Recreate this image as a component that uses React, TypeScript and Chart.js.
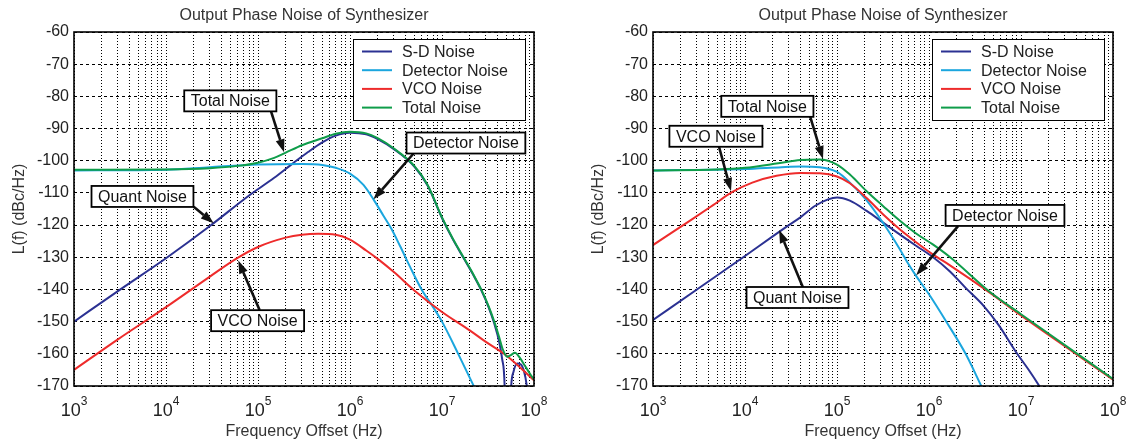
import React, { useEffect, useRef } from 'react';
import { Chart, registerables } from 'chart.js';

Chart.register(...registerables);

const FONT = '"Liberation Sans", Arial, Helvetica, sans-serif';

const TITLE = 'Output Phase Noise of Synthesizer';
const X_TITLE = 'Frequency Offset (Hz)';
const Y_TITLE = 'L(f) (dBc/Hz)';
const SERIES_NAMES = ['S-D Noise', 'Detector Noise', 'VCO Noise', 'Total Noise'];
const SERIES_COLORS = ['#2B3192', '#1BA6DE', '#EE2B2B', '#0F9D4A'];
const X_DECADES = [3, 4, 5, 6, 7, 8];
const Y_MIN = -170;
const Y_MAX = -60;
const Y_STEP = 10;

// ---------- left panel ----------
const L_SD_F = [1e3, 3e3, 1e4, 3e4, 8e4, 1.5e5, 2.3e5, 3.5e5, 5e5, 7e5, 1e6, 1.5e6, 2e6, 3e6, 5e6, 7e6, 1e7, 1.3e7, 1.73e7, 2.2e7, 2.7e7, 3.2e7, 3.7e7, 4.2e7, 4.5e7, 4.8e7, 5e7, 5.3e7, 5.6e7, 6e7, 6.6e7, 7.2e7, 7.8e7, 8.3e7, 8.8e7, 9.3e7];
const L_SD_DB = [-150, -140.5, -130.3, -120.3, -110.8, -105.3, -101.2, -97.3, -94.3, -92.2, -91.3, -91.8, -93.3, -96.4, -101.8, -107.8, -117.8, -124.2, -130.4, -135.6, -140.5, -145.4, -150.6, -156.5, -161.5, -170.5, -200, -200, -172, -165.5, -163, -163.3, -165.5, -169.5, -177, -200];

const L_DET_F = [1e3, 1e4, 3e4, 1e5, 3e5, 5e5, 7e5, 1e6, 1.4e6, 1.8e6, 2.3e6, 2.8e6, 3.5e6, 4.5e6, 6e6, 8e6, 1e7, 1.5e7, 2.3e7];
const L_DET_DB = [-103, -102.8, -102, -101.2, -101, -101.3, -102.2, -104, -107.5, -112, -117, -121, -126.5, -133, -140, -145.5, -150, -160, -171];

const L_VCO_F = [1e3, 3e3, 1e4, 3e4, 6e4, 1e5, 2e5, 3e5, 4.5e5, 7e5, 1e6, 1.5e6, 2e6, 3e6, 5e6, 1e7, 2e7, 3e7, 5e7, 1e8];
const L_VCO_DB = [-165, -155.5, -145.5, -136, -130.2, -126.8, -123.9, -123, -122.7, -123, -124.5, -127.9, -130.5, -134.6, -140.3, -147, -152.7, -156.3, -160.5, -168.2];

const L_TOT_F = [1e3, 1e4, 3e4, 6e4, 1e5, 1.5e5, 2e5, 3e5, 5e5, 7e5, 1e6, 1.5e6, 2e6, 3e6, 5e6, 7e6, 1e7, 1.3e7, 1.73e7, 2.2e7, 2.7e7, 3.2e7, 3.7e7, 4.2e7, 4.6e7, 5.1e7, 5.6e7, 6.2e7, 7e7, 8e7, 9e7, 1e8];
const L_TOT_DB = [-102.8, -102.7, -102.3, -101.6, -100.6, -99.1, -97.5, -95.2, -93, -91.6, -91, -91.5, -93, -96.2, -101.6, -107.6, -117.6, -124, -130.2, -135.4, -140.3, -145.1, -150, -155, -158.8, -160.9, -160.4, -159.7, -161.2, -163.8, -166.1, -168];

// ---------- right panel ----------
const R_SD_F = [1e3, 3e3, 1e4, 2e4, 3e4, 4e4, 5.8e4, 8e4, 1e5, 1.38e5, 2.1e5, 3.2e5, 4.8e5, 7.3e5, 1.1e6, 1.69e6, 2.5e6, 3.9e6, 5.7e6, 8.9e6, 1.2e7, 1.58e7, 2e7];
const R_SD_DB = [-149.5, -140, -129.6, -123.5, -120, -117.6, -114, -112, -111.4, -112.4, -115.6, -119.3, -122.9, -126.5, -129.9, -134.4, -139.5, -145, -151, -159.6, -164.8, -170, -175];

const R_DET_F = [1e3, 1e4, 2.5e4, 4e4, 6.5e4, 1e5, 1.38e5, 2.1e5, 3.2e5, 4.8e5, 6e5, 7.2e5, 1e6, 1.58e6, 2.5e6, 3.7e6, 4.5e6];
const R_DET_DB = [-103, -102.6, -102, -101.8, -102, -103.5, -106.8, -112.3, -119.5, -127.4, -132.2, -135.7, -141.5, -150.5, -160, -170, -175];

const R_VCO_F = [1e3, 2.6e3, 4.5e3, 7.3e3, 1.2e4, 2.2e4, 4e4, 6.5e4, 1e5, 1.38e5, 2.1e5, 3.2e5, 4.8e5, 7.3e5, 1.1e6, 1.69e6, 4.7e6, 1e7, 1e8];
const R_VCO_DB = [-126.2, -118.4, -113.8, -109.7, -106.8, -104.7, -103.8, -103.9, -104.9, -107, -111.6, -116.8, -121.3, -125.4, -129.1, -132.5, -141.2, -148.1, -168];

const R_TOT_F = [1e3, 5e3, 1e4, 2.3e4, 4e4, 6.5e4, 1e5, 1.38e5, 2.1e5, 3.2e5, 4.8e5, 7.3e5, 1.1e6, 1.7e6, 4.6e6, 1e7, 1e8];
const R_TOT_DB = [-103, -102.7, -102.2, -100.8, -99.8, -99.6, -101.2, -104.3, -109.5, -114.2, -118.6, -122.7, -126, -130, -140.8, -147.7, -167.8];

// ---------- callouts (box centre, arrow start, arrow tip) in data units ----------
type Note = { text: string; box: [number, number]; from: [number, number]; to: [number, number] };

const LEFT_NOTES: Note[] = [
  { text: 'Total Noise', box: [5.0e4, -81.4], from: [1.38e5, -84.5], to: [1.92e5, -97.4] },
  { text: 'Quant Noise', box: [5.55e3, -111.1], from: [2.0e4, -114.3], to: [3.3e4, -119.4] },
  { text: 'VCO Noise', box: [9.9e4, -149.7], from: [1.04e5, -146.4], to: [6.1e4, -131.0] },
  { text: 'Detector Noise', box: [1.82e7, -94.5], from: [4.96e6, -97.6], to: [1.8e6, -112.0] },
];

const RIGHT_NOTES: Note[] = [
  { text: 'Total Noise', box: [1.75e4, -83.1], from: [5.1e4, -86.2], to: [7.04e4, -99.5] },
  { text: 'VCO Noise', box: [4.83e3, -92.4], from: [5.2e3, -95.5], to: [7.04e3, -109.4] },
  { text: 'Detector Noise', box: [6.7e6, -117], from: [2.07e6, -120.3], to: [7.26e5, -135.6] },
  { text: 'Quant Noise', box: [3.72e4, -142.5], from: [4.27e4, -139.4], to: [2.35e4, -121.5] },
];

const X_GRID: number[] = [];
X_DECADES.forEach((e) => {
  for (let m = 1; m <= 9; m++) {
    const v = m * Math.pow(10, e);
    if (v <= Math.pow(10, X_DECADES[X_DECADES.length - 1]) + 1) X_GRID.push(v);
  }
});

const pts = (f: number[], d: number[]) => f.map((x, i) => ({ x, y: d[i] }));

type PanelDef = {
  series: { x: number; y: number }[][];
  notes: Note[];
  axisWidth: number;
  padRight: number;
};

const PANELS: PanelDef[] = [
  {
    series: [pts(L_SD_F, L_SD_DB), pts(L_DET_F, L_DET_DB), pts(L_VCO_F, L_VCO_DB), pts(L_TOT_F, L_TOT_DB)],
    notes: LEFT_NOTES,
    axisWidth: 74,
    padRight: 31,
  },
  {
    series: [pts(R_SD_F, R_SD_DB), pts(R_DET_F, R_DET_DB), pts(R_VCO_F, R_VCO_DB), pts(R_TOT_F, R_TOT_DB)],
    notes: RIGHT_NOTES,
    axisWidth: 88,
    padRight: 17,
  },
];

function decorPlugin(notes: Note[]) {
  return {
    id: 'decor',
    afterDatasetsDraw(chart: any) {
      const { ctx, chartArea: a } = chart;
      ctx.save();
      ctx.setLineDash([]);
      ctx.strokeStyle = '#000';
      ctx.lineWidth = 1.6;
      ctx.strokeRect(a.left, a.top, a.right - a.left, a.bottom - a.top);
      ctx.restore();
    },
    afterDraw(chart: any) {
      const { ctx, chartArea: a, scales } = chart;
      const xs = scales.x;
      const ys = scales.y;
      ctx.save();
      ctx.setLineDash([]);

      // title
      ctx.fillStyle = '#333';
      ctx.font = `16px ${FONT}`;
      ctx.textAlign = 'center';
      ctx.textBaseline = 'alphabetic';
      ctx.fillText(TITLE, (a.left + a.right) / 2, a.top - 12);

      // x tick labels 10^n
      ctx.fillStyle = '#222';
      X_DECADES.forEach((e) => {
        const px = xs.getPixelForValue(Math.pow(10, e));
        ctx.font = `18px ${FONT}`;
        const wb = ctx.measureText('10').width;
        ctx.font = `12px ${FONT}`;
        const we = ctx.measureText(String(e)).width;
        const x0 = px - (wb + we) / 2;
        ctx.textAlign = 'left';
        ctx.font = `18px ${FONT}`;
        ctx.fillText('10', x0, a.bottom + 30);
        ctx.font = `12px ${FONT}`;
        ctx.fillText(String(e), x0 + wb, a.bottom + 19);
      });

      // x title
      ctx.fillStyle = '#333';
      ctx.font = `16px ${FONT}`;
      ctx.textAlign = 'center';
      ctx.fillText(X_TITLE, (a.left + a.right) / 2, a.bottom + 50);

      // y title
      ctx.save();
      ctx.translate(a.left - 54, (a.top + a.bottom) / 2);
      ctx.rotate(-Math.PI / 2);
      ctx.textBaseline = 'middle';
      ctx.fillText(Y_TITLE, 0, 0);
      ctx.restore();

      // legend
      const lw = 172;
      const lh = 81;
      const lx = a.right - 9 - lw;
      const ly = a.top + 7;
      ctx.fillStyle = '#fff';
      ctx.fillRect(lx, ly, lw, lh);
      ctx.strokeStyle = '#000';
      ctx.lineWidth = 1;
      ctx.strokeRect(lx + 0.5, ly + 0.5, lw, lh);
      ctx.font = `16px ${FONT}`;
      ctx.textAlign = 'left';
      ctx.textBaseline = 'middle';
      SERIES_NAMES.forEach((name, i) => {
        const yy = ly + 12.5 + i * 18.7;
        ctx.strokeStyle = SERIES_COLORS[i];
        ctx.lineWidth = 2;
        ctx.beginPath();
        ctx.moveTo(lx + 9, yy);
        ctx.lineTo(lx + 39, yy);
        ctx.stroke();
        ctx.fillStyle = '#222';
        ctx.fillText(name, lx + 49, yy + 1);
      });

      // callouts
      notes.forEach((n) => {
        const tx = xs.getPixelForValue(n.to[0]);
        const ty = ys.getPixelForValue(n.to[1]);
        const fx = xs.getPixelForValue(n.from[0]);
        const fy = ys.getPixelForValue(n.from[1]);
        const ang = Math.atan2(ty - fy, tx - fx);
        const headLen = 13;
        const headW = 4.5;
        const bx = tx - headLen * Math.cos(ang);
        const by = ty - headLen * Math.sin(ang);
        ctx.strokeStyle = '#111';
        ctx.lineWidth = 2.6;
        ctx.beginPath();
        ctx.moveTo(fx, fy);
        ctx.lineTo(bx, by);
        ctx.stroke();
        ctx.fillStyle = '#111';
        ctx.beginPath();
        ctx.moveTo(tx, ty);
        ctx.lineTo(bx + headW * Math.sin(ang), by - headW * Math.cos(ang));
        ctx.lineTo(bx - headW * Math.sin(ang), by + headW * Math.cos(ang));
        ctx.closePath();
        ctx.fill();

        ctx.font = `16px ${FONT}`;
        const w = ctx.measureText(n.text).width + 13;
        const h = 21;
        const cx = xs.getPixelForValue(n.box[0]);
        const cy = ys.getPixelForValue(n.box[1]);
        ctx.fillStyle = '#fff';
        ctx.fillRect(cx - w / 2, cy - h / 2, w, h);
        ctx.strokeStyle = '#000';
        ctx.lineWidth = 1.8;
        ctx.strokeRect(cx - w / 2, cy - h / 2, w, h);
        ctx.fillStyle = '#111';
        ctx.textAlign = 'center';
        ctx.textBaseline = 'middle';
        ctx.fillText(n.text, cx, cy + 1);
      });

      ctx.restore();
    },
  };
}

function Panel({ def, left }: { def: PanelDef; left: number }) {
  const ref = useRef<HTMLCanvasElement>(null);
  useEffect(() => {
    const chart = new Chart(ref.current as HTMLCanvasElement, {
      type: 'line',
      data: {
        datasets: def.series.map((d, i) => ({
          label: SERIES_NAMES[i],
          data: d,
          borderColor: SERIES_COLORS[i],
          backgroundColor: SERIES_COLORS[i],
          borderWidth: 2,
          pointRadius: 0,
          fill: false,
          cubicInterpolationMode: 'monotone',
          order: 3 - i,
        })),
      },
      options: {
        animation: false,
        responsive: false,
        devicePixelRatio: 1,
        events: [],
        layout: { padding: { top: 32, right: def.padRight, left: 0, bottom: 0 } },
        plugins: {
          legend: { display: false },
          tooltip: { enabled: false },
          title: { display: false },
        },
        scales: {
          x: {
            type: 'logarithmic',
            min: 1e3,
            max: 1e8,
            ticks: { display: false },
            grid: { color: '#000', lineWidth: 1, drawTicks: false },
            border: { display: false, dash: [1, 2] },
            afterBuildTicks: (s: any) => {
              s.ticks = X_GRID.map((v) => ({ value: v }));
            },
            afterFit: (s: any) => {
              s.height = 61;
            },
          },
          y: {
            type: 'linear',
            min: Y_MIN,
            max: Y_MAX,
            ticks: {
              stepSize: Y_STEP,
              font: { family: FONT, size: 16 },
              color: '#222',
              padding: 5,
              callback: (v: any) => String(v),
            },
            grid: { color: '#000', lineWidth: 1, drawTicks: false },
            border: { display: false, dash: [3, 3] },
            afterFit: (s: any) => {
              s.width = def.axisWidth;
            },
          },
        },
      } as any,
      plugins: [decorPlugin(def.notes)],
    });
    return () => chart.destroy();
  }, [def]);
  return (
    <canvas
      ref={ref}
      width={565}
      height={447}
      style={{ position: 'absolute', left, top: 0, width: 565, height: 447, display: 'block' }}
    />
  );
}

export default function App() {
  return (
    <div style={{ position: 'absolute', left: 0, top: 0, width: 1130, height: 447, background: '#fff', overflow: 'hidden' }}>
      <Panel def={PANELS[0]} left={0} />
      <Panel def={PANELS[1]} left={565} />
    </div>
  );
}
